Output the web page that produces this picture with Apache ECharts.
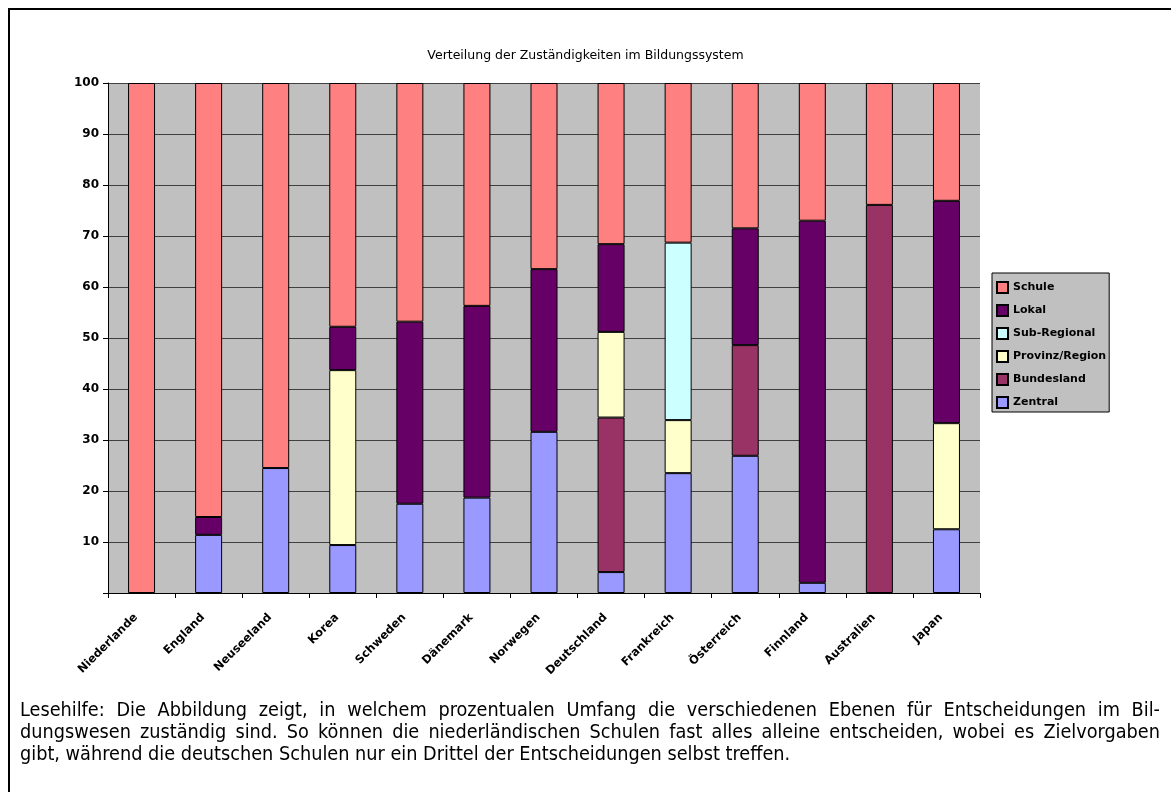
<!DOCTYPE html>
<html>
<head>
<meta charset="utf-8">
<script src="https://cdn.jsdelivr.net/npm/echarts@6/dist/echarts.min.js"></script>
<style>
    body {margin: 0; background: #fff;}
    #frame {position: absolute; left: 8px; top: 8px; width: 1200px; height: 820px; border: 2px solid #000; box-sizing: border-box;}
    #chart_1 {position: absolute; left: 0; top: 0; width: 1171px; height: 792px;}
    #note {position: absolute; left: 20px; top: 699px; width: 1140px; font-family: "DejaVu Sans Condensed", "DejaVu Sans", sans-serif; font-size: 19.7px; line-height: 22px; color: #000;}
    #note div.j {text-align: justify; text-align-last: justify;}
</style>
</head>
<body>
<div id="frame"></div>
<div id="chart_1"></div>
<div id="note">
    <div class="j">Lesehilfe: Die Abbildung zeigt, in welchem prozentualen Umfang die verschiedenen Ebenen für Entscheidungen im Bil-</div>
    <div class="j">dungswesen zuständig sind. So können die niederländischen Schulen fast alles alleine entscheiden, wobei es Zielvorgaben</div>
    <div>gibt, während die deutschen Schulen nur ein Drittel der Entscheidungen selbst treffen.</div>
</div>
<script>
var countries = ['Niederlande', 'England', 'Neuseeland', 'Korea', 'Schweden', 'Dänemark', 'Norwegen',
    'Deutschland', 'Frankreich', 'Österreich', 'Finnland', 'Australien', 'Japan'];

// Anteile in Prozent, von unten nach oben gestapelt ('-' = kein Anteil)
var zentral     = ['-', 11.4, 24.5, 9.4, 17.5, 18.7, 31.6, 4.1, 23.5, 26.9, 2.0, '-', 12.5];
var bundesland  = ['-', '-', '-', '-', '-', '-', '-', 30.3, '-', 21.7, '-', 76.1, '-'];
var provinz     = ['-', '-', '-', 34.3, '-', '-', '-', 16.8, 10.4, '-', '-', '-', 20.8];
var subRegional = ['-', '-', '-', '-', '-', '-', '-', '-', 34.8, '-', '-', '-', '-'];
var lokal       = ['-', 3.5, '-', 8.5, 35.7, 37.6, 31.9, 17.2, '-', 22.9, 71.0, '-', 43.6];
var schule      = [100, 85.1, 75.5, 47.8, 46.8, 43.7, 36.5, 31.6, 31.3, 28.5, 27.0, 23.9, 23.1];

var yTicks = [0, 100, 10];

var fontName = '"DejaVu Sans", sans-serif';

function makeSeries(name, data, color) {
    return {
        name: name,
        type: 'bar',
        stack: 'total',
        barWidth: 27,
        data: data,
        itemStyle: {color: color, borderColor: '#000', borderWidth: 1},
        emphasis: {disabled: true}
    };
}

var myChart = echarts.init(document.getElementById('chart_1'));
var option = {
    animation: false,
    title: {
        text: 'Verteilung der Zuständigkeiten im Bildungssystem',
        left: 'center',
        top: 44,
        textStyle: {fontFamily: fontName, fontSize: 12.5, fontWeight: 'normal', color: '#000'}
    },
    legend: {
        orient: 'vertical',
        left: 992,
        top: 273,
        padding: [8, 3, 3, 4],
        itemGap: 10,
        itemWidth: 11,
        itemHeight: 11,
        backgroundColor: '#C0C0C0',
        borderColor: '#000',
        borderWidth: 1,
        borderRadius: 0,
        icon: 'rect',
        textStyle: {fontFamily: fontName, fontSize: 11, fontWeight: 'bold', color: '#000'},
        data: ['Schule', 'Lokal', 'Sub-Regional', 'Provinz/Region', 'Bundesland', 'Zentral']
    },
    grid: {
        left: 108,
        right: 191,
        top: 83,
        bottom: 199,
        show: true,
        backgroundColor: '#C0C0C0',
        borderWidth: 0,
        containLabel: false
    },
    xAxis: {
        type: 'category',
        data: countries,
        axisLine: {lineStyle: {color: '#000', width: 1}},
        axisTick: {show: true, length: 5, lineStyle: {color: '#000'}},
        axisLabel: {
            rotate: 45,
            interval: 0,
            margin: 17,
            padding: [0, 8, 0, 0],
            fontFamily: fontName,
            fontSize: 11.5,
            fontWeight: 'bold',
            color: '#000'
        }
    },
    yAxis: {
        type: 'value',
        min: yTicks[0],
        max: yTicks[1],
        interval: yTicks[2],
        axisLine: {show: true, lineStyle: {color: '#000', width: 1}},
        axisTick: {show: true, length: 5, lineStyle: {color: '#000'}},
        splitLine: {lineStyle: {color: '#404040', width: 1}},
        axisLabel: {
            margin: 9,
            fontFamily: fontName,
            fontSize: 12,
            fontWeight: 'bold',
            color: '#000',
            formatter: function (v) {
                return v === 0 ? '' : v;
            }
        }
    },
    series: [
        makeSeries('Zentral', zentral, '#9999FF'),
        makeSeries('Bundesland', bundesland, '#993366'),
        makeSeries('Provinz/Region', provinz, '#FFFFCC'),
        makeSeries('Sub-Regional', subRegional, '#CCFFFF'),
        makeSeries('Lokal', lokal, '#660066'),
        makeSeries('Schule', schule, '#FF8080')
    ]
};

myChart.setOption(option);
</script>
</body>
</html>
